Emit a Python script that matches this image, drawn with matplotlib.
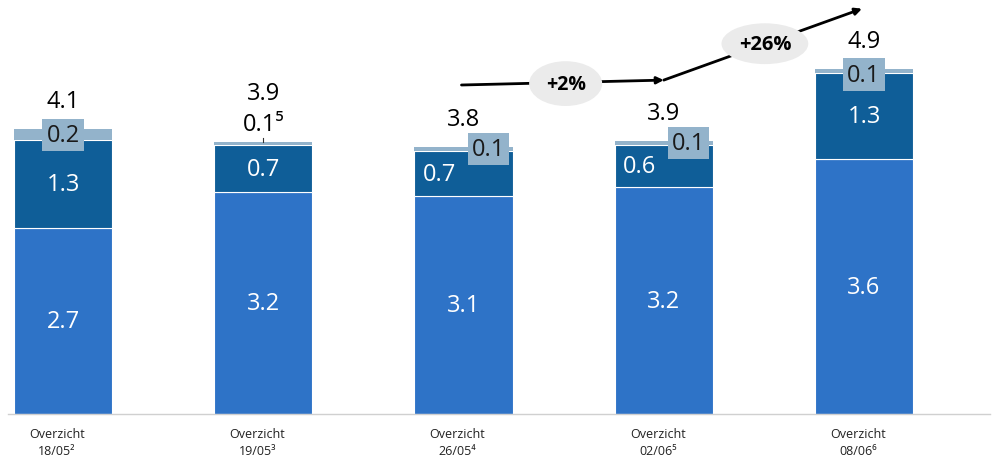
import matplotlib
matplotlib.use("Agg")
import matplotlib.pyplot as plt

# data (heights, labels as printed)
dates = ["18/05²", "19/05³", "26/05⁴", "02/06⁵", "08/06⁶"]
base = [2.66, 3.17, 3.11, 3.24, 3.64]
mid = [1.25, 0.67, 0.65, 0.60, 1.23]
top = [0.16, 0.05, 0.05, 0.06, 0.06]
base_lbl = ["2.7", "3.2", "3.1", "3.2", "3.6"]
mid_lbl = ["1.3", "0.7", "0.7", "0.6", "1.3"]
top_lbl = ["0.2", "0.1⁵", "0.1", "0.1", "0.1"]
totals = ["4.1", "3.9", "3.8", "3.9", "4.9"]
changes = ["+2%", "+26%"]

c_base = "#2e73c7"
c_mid = "#0f5e98"
c_top = "#93b3cb"

plt.rcParams["font.family"] = ["Open Sans", "DejaVu Sans"]

fig = plt.figure(figsize=(9.98, 4.64), dpi=100)
ax = fig.add_axes([0, 49 / 464, 1, 415 / 464])
ax.set_xlim(-63 / 200.25, (998 - 63) / 200.25)
ax.set_ylim(0, 415 / 70)
ax.axis("off")

x = list(range(len(dates)))
w = 0.49
ax.bar(x, base, w, color=c_base, edgecolor="white", linewidth=0.8)
ax.bar(x, mid, w, bottom=base, color=c_mid, edgecolor="white", linewidth=0.8)
b2 = [a + b for a, b in zip(base, mid)]
ax.bar(x, top, w, bottom=b2, color=c_top, edgecolor="none")

# baseline
ax.plot([-55 / 200.25, 927 / 200.25], [0, 0], color="#d0d0d0", lw=1, clip_on=False)

fs = 17
for i in x:
    ax.text(i, base[i] / 2, base_lbl[i], color="white", fontsize=fs,
            ha="center", va="center")
    # mid label, shifted left where top label sits right
    dx = -0.12 if i in (2, 3) else 0
    ax.text(i + dx, base[i] + mid[i] / 2, mid_lbl[i], color="white",
            fontsize=fs, ha="center", va="center")
    stack = base[i] + mid[i] + top[i]
    if i == 1:
        ax.plot([i, i], [stack, stack + 0.06], color="#333333", lw=0.8)
        ax.text(i, stack + 0.25, top_lbl[i], color="black", fontsize=fs,
                ha="center", va="center")
        ax.text(i, stack + 0.7, totals[i], color="black",
                fontsize=fs, ha="center", va="center")
    else:
        tx = i + 0.125 if i in (2, 3) else i
        ty = stack - (0.03 if i in (2, 3) else 0.08)
        ax.text(tx, ty, top_lbl[i], color="#1a1a1a",
                fontsize=fs, ha="center", va="center",
                bbox=dict(boxstyle="square,pad=0.17", fc=c_top, ec="none"))
        ax.text(i, stack + 0.4, totals[i], color="black",
                fontsize=fs, ha="center", va="center")
    ax.text(i - 0.03, -0.18, "Overzicht\n" + dates[i], fontsize=9,
            ha="center", va="top", linespacing=1.45, color="#222222",
            family=["Open Sans", "DejaVu Sans"])

# growth arrows
ax.annotate("", xy=(3.0, 4.77), xytext=(1.99, 4.70),
            arrowprops=dict(arrowstyle="-|>", color="black", lw=2,
                            mutation_scale=10, shrinkA=0, shrinkB=0))
ax.annotate("", xy=(3.99, 5.79), xytext=(3.0, 4.77),
            arrowprops=dict(arrowstyle="-|>", color="black", lw=2,
                            mutation_scale=10, shrinkA=0, shrinkB=0))
ax.text(2.51, 4.72, changes[0], fontsize=14, fontweight="bold", ha="center",
        va="center", zorder=5,
        bbox=dict(boxstyle="ellipse,pad=0.3", fc="#ebebeb", ec="none"))
ax.text(3.505, 5.29, changes[1], fontsize=14.5, fontweight="bold", ha="center",
        va="center", zorder=5,
        bbox=dict(boxstyle="ellipse,pad=0.22", fc="#ebebeb", ec="none"))

fig.savefig("out.png", dpi=100)
